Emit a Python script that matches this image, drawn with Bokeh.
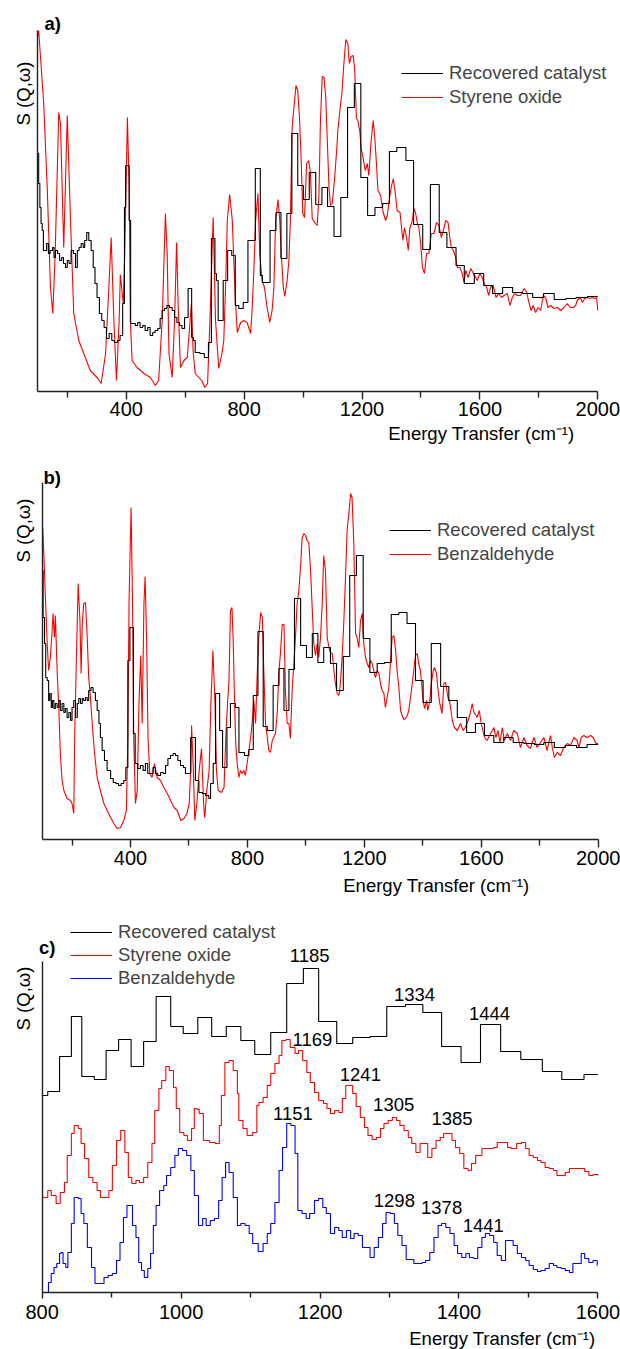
import math
from bokeh.plotting import figure
from bokeh.models import Range1d, FixedTicker, Label, Legend, LegendItem
from bokeh.layouts import column
from bokeh.embed import file_html
from bokeh.resources import INLINE
from bokeh.core.properties import value

FONT = "Liberation Sans"

# ---------------- data (x = energy transfer / cm-1, y = S(Q,w) arbitrary units) -------------
# Panel a: recovered catalyst (coarse bins, value from bin start)
a_catalyst = [(100,238),(103,208),(107,184),(111,168),(115,161),(119,141),(130,148),(136,138),(142,141),(150,144),
    (155,134),(160,141),(167,138),(174,131),(181,134),(187,128),(194,124),(200,131),(206,128),(213,141),
    (221,138),(228,124),(234,141),(240,144),(247,148),(254,144),(259,151),(266,159),(273,151),(281,141),
    (288,124),(294,108),(301,94),(309,78),(317,71),(325,64),(333,53),(342,58),(351,51),(360,49),
    (370,51),(379,56),(388,88),(394,184),(398,226),(410,171),(415,68),(431,66),(439,69),(447,64),
    (456,66),(464,61),(473,64),(481,56),(490,59),(498,61),(507,63),(515,73),(522,81),(530,83),
    (538,86),(547,84),(556,81),(564,74),(572,69),(581,66),(589,63),(598,74),(610,103),(622,54),
    (628,51),(634,39),(650,38),(665,34),(679,49),(689,153),(701,118),(706,111),(712,71),(729,111),
    (744,141),(758,136),(770,86),(782,83),(797,89),(813,151),(838,223),(855,116),(862,109),(888,161),
    (908,179),(925,133),(945,178),(962,258),(982,206),(1001,192),(1021,219),(1043,187),(1064,204),(1083,185),
    (1105,155),(1128,194),(1151,284),(1174,308),(1196,214),(1219,176),(1244,184),(1270,188),(1293,240),(1318,244),
    (1349,231),(1375,167),(1406,142),(1432,207),(1462,159),(1488,144),(1519,126),(1547,108),(1581,118),(1613,106),
    (1643,98),(1677,104),(1711,99),(1745,98),(1779,94),(1816,98),(1852,92),(1892,93),(1926,94),(1965,95),(2000,95)]

# Panel a: styrene oxide
a_styrene = [(100,355),(103,361),(120,288),(132,204),(143,104),(151,78),(159,138),(171,279),(177,268),(188,144),
    (200,276),(211,171),(222,78),(239,51),(256,38),(278,21),(301,14),(315,8),(330,38),(341,104),
    (349,154),(358,71),(367,11),(376,71),(380,117),(390,88),(395,138),(404,274),(410,204),(414,71),
    (420,31),(437,24),(460,18),(482,14),(499,6),(510,11),(522,71),(533,178),(539,138),(545,38),
    (556,14),(564,71),(571,149),(576,88),(584,24),(596,31),(607,34),(614,60),(621,88),(627,40),
    (634,18),(656,11),(667,4),(676,8),(684,71),(695,174),(703,71),(714,23),(725,38),(731,51),
    (737,104),(743,171),(751,197),(760,171),(765,131),(771,88),(777,59),(788,69),(799,71),(810,69),
    (822,58),(827,81),(833,121),(839,171),(847,198),(853,138),(861,111),(869,104),(878,84),(887,69),
    (895,81),(901,104),(907,171),(915,192),(921,171),(926,138),(933,104),(938,95),(946,111),(952,131),
    (957,171),(963,264),(969,284),(976,306),(982,301),(988,273),(994,228),(999,178),(1005,174),(1012,228),
    (1019,231),(1025,219),(1031,173),(1039,169),(1048,166),(1054,198),(1059,271),(1065,315),(1071,314),(1077,294),
    (1082,253),(1088,204),(1093,186),(1099,188),(1107,213),(1114,241),(1118,261),(1125,281),(1132,299),(1138,326),
    (1145,352),(1152,348),(1157,328),(1163,335),(1170,336),(1175,323),(1181,273),(1186,271),(1193,259),(1197,243),
    (1204,233),(1211,221),(1218,228),(1223,216),(1231,251),(1238,271),(1244,251),(1249,228),(1254,201),(1263,196),
    (1272,179),(1280,171),(1286,176),(1291,189),(1299,204),(1306,213),(1313,198),(1319,181),(1329,179),(1334,164),
    (1339,151),(1344,164),(1351,154),(1357,141),(1362,163),(1370,170),(1376,183),(1382,178),(1388,168),(1393,164),
    (1399,148),(1405,124),(1412,118),(1419,138),(1427,138),(1435,158),(1444,158),(1453,169),(1461,166),(1469,154),
    (1476,161),(1484,171),(1492,169),(1498,154),(1503,144),(1510,141),(1518,134),(1523,124),(1532,124),(1540,118),
    (1546,109),(1552,121),(1560,114),(1569,123),(1578,118),(1586,114),(1591,111),(1600,118),(1608,114),(1614,108),
    (1623,104),(1630,96),(1636,104),(1645,106),(1655,94),(1664,98),(1673,94),(1682,96),(1693,98),(1702,86),
    (1710,94),(1718,98),(1727,96),(1738,96),(1750,103),(1759,99),(1767,88),(1774,81),(1781,86),(1789,79),
    (1797,84),(1806,81),(1815,96),(1823,94),(1831,84),(1840,86),(1851,83),(1863,84),(1874,81),(1885,84),
    (1897,88),(1906,84),(1917,84),(1925,86),(1930,91),(1940,94),(1948,89),(1955,93),(1964,94),(1973,93),
    (1981,94),(1989,93),(1996,94),(2000,81)]

# Panel b: recovered catalyst
b_catalyst = [(100,269),(101,222),(106,196),(110,162),(115,159),(120,139),(124,146),(129,132),(133,139),(138,131),
    (143,136),(149,132),(155,139),(160,129),(166,136),(172,127),(177,131),(183,122),(189,127),(195,119),
    (200,132),(206,139),(212,122),(218,136),(223,141),(229,136),(235,141),(240,139),(246,142),(252,139),
    (257,149),(265,152),(272,147),(280,139),(286,129),(292,116),(297,102),(303,89),(311,79),(320,69),
    (332,61),(341,57),(350,56),(359,54),(368,56),(377,59),(384,72),(391,179),(398,212),(410,106),
    (416,76),(425,71),(434,74),(443,69),(451,76),(459,66),(468,66),(477,72),(485,66),(493,64),
    (503,67),(512,66),(520,74),(528,81),(537,84),(546,86),(554,84),(562,79),(571,74),(581,72),
    (588,66),(596,66),(606,102),(622,59),(634,47),(646,46),(657,44),(668,41),(674,56),(683,76),
    (691,146),(705,109),(715,72),(730,112),(742,136),(759,132),(771,87),(790,84),(805,90),(820,144),
    (836,208),(854,113),(868,109),(888,154),(908,171),(925,129),(942,170),(961,241),(982,194),(1002,182),
    (1022,206),(1041,177),(1061,192),(1084,176),(1105,149),(1128,183),(1150,264),(1173,284),(1196,201),(1219,167),
    (1244,176),(1269,177),(1292,225),(1318,227),(1346,216),(1375,159),(1401,137),(1429,196),(1461,153),(1489,139),
    (1518,122),(1550,107),(1580,116),(1611,104),(1643,97),(1677,102),(1709,97),(1746,96),(1782,95),(1814,97),
    (1850,92),(1888,94),(1926,92),(1962,95),(2000,95)]

# Panel b: benzaldehyde
b_benzaldehyde = [(100,311),(104,282),(109,242),(115,196),(120,169),(126,182),(132,209),(135,226),(140,202),(143,224),
    (149,169),(155,129),(160,86),(166,59),(172,49),(183,41),(195,39),(200,36),(206,26),(209,102),
    (215,182),(221,256),(227,219),(231,166),(235,216),(240,236),(246,237),(252,202),(257,162),(263,142),
    (269,116),(277,86),(286,62),(297,49),(309,36),(320,29),(332,22),(343,16),(354,11),(366,12),
    (377,19),(386,29),(391,102),(395,236),(402,332),(407,236),(411,102),(417,36),(423,49),(429,136),
    (435,184),(440,116),(446,236),(450,263),(455,202),(460,102),(466,66),(474,62),(482,76),(491,62),
    (503,59),(514,52),(526,46),(537,39),(549,32),(560,29),(572,19),(583,21),(593,26),(601,36),
    (606,69),(609,114),(615,69),(620,19),(627,36),(635,69),(643,91),(650,36),(654,22),(661,49),
    (669,69),(675,136),(682,189),(689,136),(694,69),(700,49),(711,47),(720,52),(726,102),(732,136),
    (737,159),(742,229),(747,232),(751,202),(756,139),(760,96),(765,76),(771,62),(776,69),(782,66),
    (788,69),(793,64),(799,76),(805,89),(811,102),(816,116),(822,139),(828,116),(833,162),(839,202),
    (845,227),(851,222),(856,169),(862,116),(868,102),(873,89),(879,87),(885,99),(890,102),(896,106),
    (902,126),(908,169),(913,186),(919,215),(925,215),(930,149),(936,116),(942,116),(947,101),(953,149),
    (959,176),(965,206),(970,236),(976,249),(982,274),(987,301),(993,306),(999,304),(1004,299),(1010,297),
    (1016,269),(1022,229),(1027,196),(1033,184),(1039,196),(1044,182),(1050,202),(1056,236),(1061,284),(1067,269),
    (1073,202),(1079,192),(1084,187),(1090,186),(1096,169),(1101,156),(1107,146),(1113,144),(1118,156),(1124,182),
    (1130,219),(1136,266),(1141,309),(1147,326),(1153,346),(1158,342),(1164,296),(1170,206),(1175,202),(1181,192),
    (1187,219),(1193,226),(1198,196),(1204,182),(1210,176),(1215,172),(1221,179),(1227,176),(1232,169),(1238,162),
    (1244,169),(1250,166),(1255,156),(1261,149),(1267,146),(1272,132),(1278,142),(1284,152),(1289,176),(1295,202),
    (1301,204),(1307,189),(1312,169),(1318,152),(1324,129),(1329,124),(1335,120),(1341,121),(1347,124),(1352,129),
    (1358,142),(1364,156),(1369,169),(1375,184),(1381,186),(1386,176),(1392,169),(1401,139),(1406,131),(1413,139),
    (1417,129),(1424,139),(1429,156),(1436,169),(1440,172),(1447,166),(1451,152),(1458,136),(1466,126),(1472,156),
    (1478,157),(1486,142),(1493,136),(1501,119),(1508,112),(1518,109),(1529,116),(1538,109),(1545,112),(1555,119),
    (1562,126),(1569,136),(1575,127),(1586,122),(1593,129),(1600,116),(1611,102),(1620,99),(1632,106),(1643,112),
    (1650,102),(1657,109),(1664,97),(1672,112),(1679,99),(1689,106),(1700,99),(1711,109),(1723,106),(1734,92),
    (1746,102),(1757,94),(1768,91),(1780,102),(1791,92),(1803,97),(1814,102),(1825,89),(1837,104),(1843,92),
    (1850,82),(1860,87),(1871,84),(1882,92),(1894,96),(1905,94),(1917,102),(1928,99),(1934,92),(1942,102),
    (1951,104),(1962,102),(1974,104),(1983,102),(1992,96),(2000,96)]

# Panel c (offset traces)
c_catalyst = [(800,197),(808,201),(825,236),(842,276),(857,216),(875,213),(892,242),(910,253),(928,226),(946,251),
    (964,296),(985,266),(1003,259),(1024,275),(1044,256),(1065,266),(1086,252),(1106,238),(1129,260),(1152,309),
    (1176,324),(1198,271),(1224,249),(1247,255),(1272,256),(1296,286),(1323,288),(1348,280),(1375,246),(1403,230),
    (1431,268),(1460,241),(1489,233),(1520,221),(1548,213),(1580,218),(1600,218)]

c_styrene = [(800,95),(808,102),(813,97),(820,89),(826,100),(832,110),(836,137),(842,159),(846,167),(852,164),
    (856,149),(861,134),(867,115),(873,110),(879,102),(884,95),(890,95),(896,102),(901,127),(907,152),
    (913,162),(919,140),(924,115),(929,109),(935,112),(940,110),(946,115),(952,130),(958,149),(962,182),
    (968,204),(972,212),(978,226),(983,222),(989,205),(993,184),(998,160),(1004,157),(1009,152),(1015,164),
    (1019,184),(1023,183),(1026,179),(1032,152),(1041,150),(1049,149),(1055,167),(1058,197),(1063,230),(1069,232),
    (1075,222),(1081,199),(1083,172),(1089,164),(1095,157),(1103,160),(1109,187),(1112,190),(1118,195),(1124,207),
    (1129,219),(1135,229),(1141,237),(1145,252),(1151,253),(1157,245),(1164,239),(1169,242),(1175,232),(1181,220),
    (1186,210),(1192,200),(1198,192),(1205,189),(1210,184),(1215,179),(1221,182),(1227,180),(1232,194),(1237,207),
    (1243,207),(1247,199),(1252,186),(1258,175),(1264,165),(1269,157),(1275,153),(1281,155),(1287,164),(1292,169),
    (1298,172),(1304,175),(1310,172),(1315,167),(1321,162),(1327,155),(1332,149),(1338,140),(1344,149),(1350,149),
    (1355,135),(1361,144),(1367,152),(1373,155),(1378,159),(1386,159),(1390,152),(1395,145),(1401,139),(1407,124),
    (1413,122),(1418,129),(1424,137),(1433,144),(1441,144),(1450,145),(1455,150),(1464,150),(1470,145),(1475,144),
    (1483,149),(1490,150),(1496,144),(1501,137),(1507,135),(1513,132),(1518,130),(1524,125),(1530,124),(1536,122),
    (1541,117),(1547,117),(1553,120),(1559,124),(1567,124),(1576,124),(1581,121),(1587,117),(1593,118),(1600,117)]

c_benzaldehyde = [(800,0),(806,0),(809,10),(813,19),(817,25),(821,29),(825,39),(827,40),(830,29),(834,25),
    (837,40),(842,69),(846,95),(852,94),(856,79),(860,69),(865,45),(871,25),(876,9),(883,9),
    (889,15),(895,17),(901,19),(907,32),(912,50),(917,75),(922,87),(926,87),(930,67),(935,55),
    (939,30),(943,22),(947,15),(952,24),(956,39),(960,67),(964,87),(969,102),(975,107),(979,117),
    (985,125),(991,137),(996,144),(1002,142),(1008,137),(1014,122),(1019,97),(1025,67),(1031,74),(1036,67),
    (1042,72),(1048,74),(1054,92),(1059,115),(1064,130),(1069,120),(1075,95),(1081,67),(1086,69),(1092,67),
    (1098,59),(1103,49),(1111,41),(1118,49),(1124,59),(1129,69),(1135,90),(1141,122),(1146,145),(1152,169),
    (1158,167),(1164,139),(1168,82),(1174,79),(1180,74),(1185,79),(1192,92),(1198,94),(1204,85),(1209,79),
    (1215,59),(1221,65),(1227,62),(1232,55),(1238,62),(1244,54),(1249,59),(1255,57),(1261,45),(1267,45),
    (1272,35),(1278,45),(1284,55),(1290,69),(1295,80),(1301,79),(1307,69),(1312,57),(1318,47),(1324,33),
    (1330,33),(1335,29),(1341,29),(1347,30),(1352,32),(1358,40),(1364,55),(1370,67),(1375,69),(1381,65),
    (1387,59),(1393,47),(1398,39),(1404,35),(1410,39),(1415,35),(1421,34),(1427,45),(1433,55),(1438,59),
    (1444,57),(1450,50),(1455,37),(1461,32),(1467,52),(1473,52),(1478,47),(1484,39),(1490,35),(1496,32),
    (1501,27),(1507,23),(1513,21),(1518,22),(1524,24),(1530,29),(1536,27),(1541,25),(1547,24),(1553,22),
    (1559,20),(1564,29),(1570,29),(1576,39),(1581,34),(1587,30),(1593,32),(1599,27)]

# peak annotations in panel c: (label, x, y)
c_peak_labels = [("1185", 1185, 337), ("1334", 1336, 298), ("1444", 1444, 279),
                 ("1169", 1189, 253), ("1241", 1258, 218), ("1305", 1306, 188), ("1385", 1390, 174),
                 ("1151", 1161, 179), ("1298", 1307, 92), ("1378", 1375, 85), ("1441", 1435, 67)]

ab_major = [400, 800, 1200, 1600, 2000]
ab_minor = [200, 600, 1000, 1400, 1800]
c_major = [800, 1000, 1200, 1400, 1600]
c_minor = [900, 1100, 1300, 1500]

BLACK = "#000000"
RED = "#ff0000"
BLUE = "#0000ff"
XLABEL = "Energy Transfer (cm⁻¹)"
YLABEL = "S (Q,ω)"
WIDTH = 620


def xy(pairs):
    return [p[0] for p in pairs], [p[1] for p in pairs]


def panel(height, axis_y, left_px, right_px, xr, ymax, major, minor, tick_major, tick_minor, lab_standoff):
    """Frame covers the whole figure; both axes sit at fixed data locations
    (x axis at y=0, y axis at the first x value) and are limited with bounds."""
    x0, x1 = xr
    scale = (right_px - left_px) / (x1 - x0)         # px per cm-1
    x_start = x0 - left_px / scale
    x_end = x0 + (WIDTH - left_px) / scale
    # 1 data unit of intensity = 1 px
    y_range = Range1d(-(height - axis_y), axis_y)
    p = figure(width=WIDTH, height=height, x_range=Range1d(x_start, x_end), y_range=y_range,
               output_backend="svg", toolbar_location=None,
               min_border=0, min_border_top=0, min_border_bottom=0,
               min_border_left=0, min_border_right=0)
    p.grid.visible = False
    p.outline_line_color = None
    p.background_fill_color = "white"
    p.border_fill_color = "white"
    xa = p.xaxis[0]
    xa.fixed_location = 0
    xa.bounds = (x0, x1)
    xa.ticker = FixedTicker(ticks=major, minor_ticks=minor)
    xa.major_tick_out = tick_major
    xa.major_tick_in = 0
    xa.minor_tick_out = tick_minor
    xa.minor_tick_in = 0
    xa.axis_line_color = "#222222"
    xa.axis_line_width = 1.6
    xa.major_tick_line_color = "#222222"
    xa.major_tick_line_width = 1.4
    xa.minor_tick_line_color = "#222222"
    xa.minor_tick_line_width = 1.4
    xa.major_label_text_font = FONT
    xa.major_label_text_font_size = "20px"
    xa.major_label_text_color = "black"
    xa.major_label_standoff = lab_standoff
    ya = p.yaxis[0]
    ya.fixed_location = x0
    ya.ticker = FixedTicker(ticks=[])
    ya.bounds = (0, ymax)
    ya.major_tick_out = 0
    ya.major_tick_in = 0
    ya.minor_tick_out = 0
    ya.axis_line_color = "#222222"
    ya.axis_line_width = 1.4
    return p


def add_text(p, x, y, text, align="left", bold=False, angle=0.0):
    # x, y: screen px from the figure's bottom-left corner
    p.add_layout(Label(x=x, y=y, x_units="screen", y_units="screen", text=text,
                       text_font=FONT, text_font_size="18.5px", text_align=align,
                       text_baseline="middle", angle=angle,
                       text_font_style="bold" if bold else "normal", text_color="black"))


def add_legend(p, items, vx, vy, spacing):
    leg = Legend(items=items, location=(vx, vy), padding=0, margin=0, spacing=spacing,
                 glyph_width=42, glyph_height=20, label_height=20, label_standoff=6,
                 label_text_font=FONT, label_text_font_size="18.5px",
                 border_line_alpha=0, background_fill_alpha=0)
    p.add_layout(leg)


# ---------------- panel a (figure 0..445 px) ----------------
pa = panel(445, 391, 37.3, 597.3, (100, 2000), 361, ab_major, ab_minor, 8, 6, 2)
x, y = xy(a_styrene)
ra_red = pa.line(x, y, line_color=RED, line_width=1.1)
x, y = xy(a_catalyst)
ra_blk = pa.step(x, y, mode="after", line_color=BLACK, line_width=1.1)
add_legend(pa, [LegendItem(label="Recovered catalyst", renderers=[ra_blk]),
                LegendItem(label="Styrene oxide", renderers=[ra_red])], 401, 337, 2)
add_text(pa, 44, 422, "a)", bold=True)
add_text(pa, 23, 352, YLABEL, align="center", angle=math.pi / 2)
add_text(pa, 574, 12, XLABEL, align="right")

# ---------------- panel b (figure 445..900 px) ----------------
pb = panel(455, 394, 42.3, 597.7, (100, 2000), 357, ab_major, ab_minor, 8, 6, 3)
x, y = xy(b_benzaldehyde)
rb_red = pb.line(x, y, line_color=RED, line_width=1.1)
x, y = xy(b_catalyst)
rb_blk = pb.step(x, y, mode="after", line_color=BLACK, line_width=1.1)
add_legend(pb, [LegendItem(label="Recovered catalyst", renderers=[rb_blk]),
                LegendItem(label="Benzaldehyde", renderers=[rb_red])], 389, 335, 2)
add_text(pb, 43, 423, "b)", bold=True)
add_text(pb, 23, 370, YLABEL, align="center", angle=math.pi / 2)
add_text(pb, 529, 15, XLABEL, align="right")

# ---------------- panel c (figure 900..1349 px) ----------------
pc = panel(449, 392, 41.7, 597.4, (800, 1600), 331, c_major, c_minor, 6, 5, 6)
x, y = xy(c_catalyst)
rc_blk = pc.step(x, y, mode="after", line_color=BLACK, line_width=1.1)
x, y = xy(c_styrene)
rc_red = pc.step(x, y, mode="after", line_color=RED, line_width=1.1)
x, y = xy(c_benzaldehyde)
rc_blu = pc.step(x, y, mode="after", line_color=BLUE, line_width=1.1)
pc.text(x=[t[1] for t in c_peak_labels], y=[t[2] for t in c_peak_labels],
        text=[t[0] for t in c_peak_labels], text_font=value(FONT), text_font_size="18.5px",
        text_align="center", text_baseline="middle", text_color="black")
add_legend(pc, [LegendItem(label="Recovered catalyst", renderers=[rc_blk]),
                LegendItem(label="Styrene oxide", renderers=[rc_red]),
                LegendItem(label="Benzaldehyde", renderers=[rc_blu])], 70, 360, 1)
add_text(pc, 38.5, 402, "c)", bold=True)
add_text(pc, 23, 351, YLABEL, align="center", angle=math.pi / 2)
add_text(pc, 595, 11, XLABEL, align="right")

p = column(pa, pb, pc, spacing=0)
open("out.html", "w").write(file_html(p, INLINE))
